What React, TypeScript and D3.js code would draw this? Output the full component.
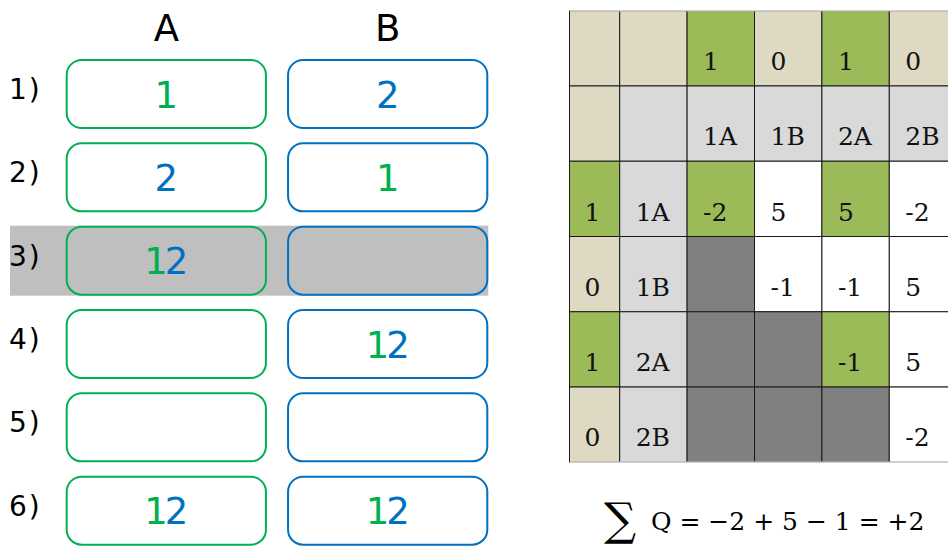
import React from 'react';
import * as d3 from 'd3';

// left panel: which qubit values each slot holds
const rowLabels = ['1)', '2)', '3)', '4)', '5)', '6)'];
const columnNames = ['A', 'B'];
const slotA = ['1', '2', '12', '', '', '12'];
const slotB = ['2', '1', '', '12', '', '12'];
const highlightedRow = 2;

// right panel: QUBO matrix
const stateLabels = ['1A', '1B', '2A', '2B'];
const stateFlags = ['1', '0', '1', '0'];
const qMatrix: (number | null)[][] = [
  [-2, 5, 5, -2],
  [null, -1, -1, 5],
  [null, null, -1, 5],
  [null, null, null, -2],
];
const formula = 'Q = \u22122 + 5 \u2212 1 = +2';

const GREEN = '#00B050';
const BLUE = '#0070C0';
const BEIGE = '#DDD9C3';
const LEAF = '#9BBB59';
const LIGHT = '#D9D9D9';
const DARK = '#808080';

const digitColor = (c: string) => (c === '1' ? GREEN : BLUE);

function LeftPanel() {
  const y = d3.scaleLinear().domain([0, 5]).range([94, 510.7]);
  const x = d3.scaleBand<string>().domain(columnNames).range([66.7, 487.3]).paddingInner(0.1);
  const boxH = 68;
  const slots = [slotA, slotB];
  const strokes = [GREEN, BLUE];
  return (
    <g>
      {columnNames.map((c) => (
        <text key={c} x={x(c)! + x.bandwidth() / 2} y={40.5} textAnchor="middle"
          fontFamily="DejaVu Sans" fontSize={37} fill="#000">{c}</text>
      ))}
      <rect x={10} y={y(highlightedRow) - 35} width={478.3} height={70} fill="#BFBFBF" />
      {rowLabels.map((lab, i) => (
        <g key={lab}>
          <text x={9} y={y(i) + 5} fontFamily="DejaVu Sans" fontSize={28} letterSpacing={2} fill="#000">{lab}</text>
          {columnNames.map((c, k) => {
            const val = slots[k][i];
            const cx = x(c)! + x.bandwidth() / 2;
            return (
              <g key={c}>
                <rect x={x(c)!} y={y(i) - boxH / 2} width={x.bandwidth()} height={boxH} rx={15}
                  fill={i === highlightedRow ? '#BFBFBF' : '#fff'} stroke={strokes[k]} strokeWidth={2} />
                <text x={cx - (val.length > 1 ? 1.5 : 0)} y={y(i) + 13.5} textAnchor="middle"
                  fontFamily="DejaVu Sans" fontSize={37} letterSpacing={val.length > 1 ? -3 : 0}>
                  {val.split('').map((ch, j) => (
                    <tspan key={j} fill={digitColor(ch)}>{ch}</tspan>
                  ))}
                </text>
              </g>
            );
          })}
        </g>
      ))}
    </g>
  );
}

type Cell = { fill: string; text: string };

function RightPanel() {
  const rows = d3.scaleBand<number>().domain(d3.range(6)).range([10.7, 462.3]);
  const cols = d3.scaleBand<number>().domain(d3.range(1, 6)).range([619.7, 956.7]);
  const colX = (j: number) => (j === 0 ? 569.5 : cols(j)!);
  const colW = (j: number) => (j === 0 ? 619.7 - 569.5 : cols.bandwidth());

  const grid: Cell[][] = d3.range(6).map((r) =>
    d3.range(6).map((c) => {
      if (r === 0) {
        if (c < 2) return { fill: BEIGE, text: '' };
        const f = stateFlags[c - 2];
        return { fill: f === '1' ? LEAF : BEIGE, text: f };
      }
      if (r === 1) {
        if (c === 0) return { fill: BEIGE, text: '' };
        return { fill: LIGHT, text: c === 1 ? '' : stateLabels[c - 2] };
      }
      const i = r - 2;
      if (c === 0) return { fill: stateFlags[i] === '1' ? LEAF : BEIGE, text: stateFlags[i] };
      if (c === 1) return { fill: LIGHT, text: stateLabels[i] };
      const j = c - 2;
      const v = qMatrix[i][j];
      if (v === null) return { fill: DARK, text: '' };
      const sel = stateFlags[i] === '1' && stateFlags[j] === '1';
      return { fill: sel ? LEAF : '#fff', text: String(v) };
    })
  );

  return (
    <g>
      {grid.map((row, r) =>
        row.map((cell, c) => (
          <g key={`${r}-${c}`}>
            <rect x={colX(c)} y={rows(r)!} width={colW(c)} height={rows.bandwidth()}
              fill={cell.fill} stroke="#1a1a1a" strokeWidth={1} />
            {cell.text && (
              <text x={colX(c) + (c === 0 ? 15 : 16)} y={rows(r)! + rows.bandwidth() - 16}
                fontFamily="DejaVu Serif" fontSize={25} fill="#111">{cell.text}</text>
            )}
          </g>
        ))
      )}
      <line x1={569.5} x2={948} y1={10.7} y2={10.7} stroke="#cfcfcf" strokeWidth={1.5} />
      <line x1={569.5} x2={948} y1={462.3} y2={462.3} stroke="#cfcfcf" strokeWidth={1.5} />
      <text x={604} y={535} fontFamily="DejaVu Serif" fontSize={45} fill="#000">{'\u2211'}</text>
      <text x={651} y={530} fontFamily="DejaVu Serif" fontSize={25} fill="#000">{formula}</text>
    </g>
  );
}

export default function App() {
  return (
    <svg width={948} height={547} viewBox="0 0 948 547"
      style={{ position: 'absolute', left: 0, top: 0, display: 'block', background: '#fff' }}>
      <LeftPanel />
      <RightPanel />
    </svg>
  );
}
